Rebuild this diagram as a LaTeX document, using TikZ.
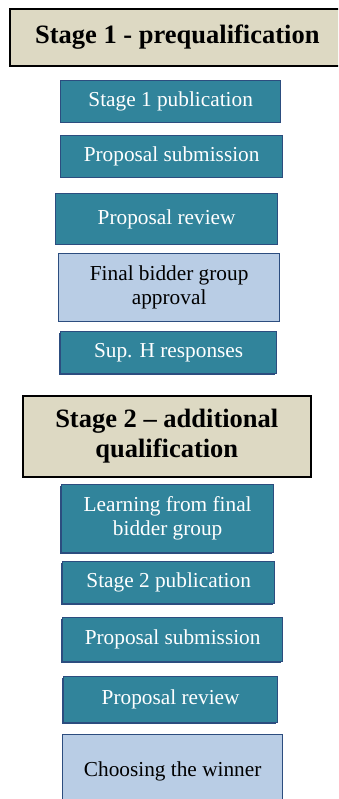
\documentclass[tikz,border=0pt]{standalone}
\usepackage{fontspec}
\setmainfont{Liberation Serif}
\usepackage{tikz}
\usetikzlibrary{shadows}

\definecolor{hdrfill}{RGB}{221,217,195}
\definecolor{taskfill}{RGB}{49,132,155}
\definecolor{taskedge}{RGB}{44,77,127}
\definecolor{gatefill}{RGB}{185,205,229}

\begin{document}
\begin{tikzpicture}[
    x=1pt, y=-1pt,
    stagehdr/.style={rectangle, draw=black, line width=1.6pt, fill=hdrfill, anchor=north west, inner sep=0pt, align=center, font=\fontsize{26.5}{30}\selectfont\bfseries},
    task/.style={rectangle, draw=taskedge, line width=1.3pt, fill=taskfill, text=white, anchor=north west, inner sep=0pt, align=center, font=\fontsize{21.3}{24}\selectfont},
    gate/.style={task, fill=gatefill, text=black},
    shadowed/.style={drop shadow={shadow xshift=-1.6pt, shadow yshift=-1.8pt, fill=taskedge, opacity=1}}
]
\clip (0,0) rectangle (338,799);

% Stage 1
\node (hdr1) [stagehdr, minimum width=335pt, minimum height=57pt] at (9,8) {Stage 1 - prequalification};
\node (pub1) [task, minimum width=220pt, minimum height=42pt] at (60,80) {Stage 1 publication};
\node (sub1) [task, minimum width=222pt, minimum height=42pt] at (60,135) {Proposal submission};
\node (rev1) [task, minimum width=222pt, minimum height=51pt] at (55,193) {Proposal review};
\node (appr) [gate, minimum width=221pt, minimum height=68pt] at (58,253) {Final bidder group\\approval};
\node (supH) [task, shadowed, minimum width=216pt, minimum height=42pt] at (60,331) {Sup. H responses};

% Stage 2
\node (hdr2) [stagehdr, minimum width=288pt, minimum height=81pt] at (22,395) {Stage 2 -- additional\\qualification};
\node (learn) [task, shadowed, minimum width=212pt, minimum height=68pt] at (61,484) {Learning from final\\bidder group};
\node (pub2) [task, shadowed, minimum width=212pt, minimum height=42pt] at (62,561) {Stage 2 publication};
\node (sub2) [task, shadowed, minimum width=220pt, minimum height=44pt] at (62,617) {Proposal submission};
\node (rev2) [task, shadowed, minimum width=214pt, minimum height=46pt] at (63,676) {Proposal review};
\node (win) [gate, minimum width=220pt, minimum height=74pt] at (62,734) {Choosing the winner};

\end{tikzpicture}
\end{document}
